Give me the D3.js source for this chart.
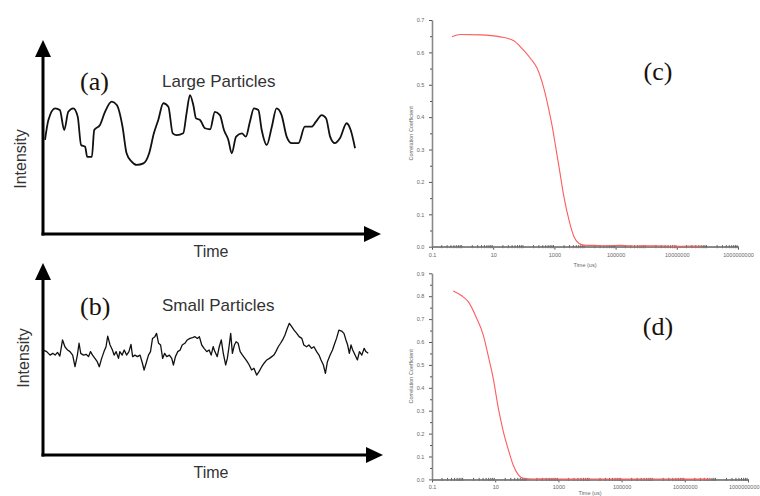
<!DOCTYPE html>
<html lang="en">
<head>
<meta charset="utf-8">
<script src="https://cdn.jsdelivr.net/npm/d3@7"></script>
<style>
  body { margin: 0; background: #fff; }
  svg { display: block; }
</style>
</head>
<body>
<script>
// (a) large particles, intensity vs time (arbitrary units)
const largeT = [0.6, 1.6, 3.6, 5.0, 6.3, 7.5, 9.0, 10.3, 11.3, 12.5, 13.1, 14.5, 15.2, 16.9, 18.4, 20.4, 21.9, 23.6, 24.8, 26.3,
  27.8, 29.8, 31.5, 32.9, 34.2, 35.7, 37.2, 38.5, 39.7, 41.6, 42.6, 43.6, 44.6, 45.4, 46.6, 48.1, 49.6, 51.0, 52.5, 53.7,
  55.0, 56.0, 57.3, 59.0, 60.2, 61.4, 62.6, 63.9, 64.9, 66.4, 67.9, 69.3, 70.8, 72.3, 73.8, 75.8, 77.7, 79.7, 81.0, 82.7,
  84.0, 85.2, 86.6, 88.1, 90.1, 91.3, 92.6];
const largeI = [48.5, 58.8, 64.8, 63.9, 53.6, 63.0, 64.8, 60.5, 45.9, 45.0, 39.8, 39.8, 53.6, 56.2, 63.0, 68.2, 66.5, 55.3, 41.6, 37.3,
  35.6, 36.4, 41.6, 51.9, 58.8, 67.4, 65.6, 51.9, 51.0, 51.9, 62.2, 71.6, 66.5, 59.6, 58.8, 54.5, 54.0, 63.0, 61.3, 53.6,
  48.5, 41.6, 50.2, 51.9, 50.2, 57.9, 64.8, 63.9, 53.6, 45.9, 55.3, 64.8, 61.3, 50.2, 46.8, 46.8, 55.3, 55.3, 57.9, 61.3,
  59.6, 50.2, 46.8, 49.3, 57.1, 53.6, 44.2];

// (b) small particles
const smallT = [0.1, 1.1, 2.1, 2.9, 3.6, 4.3, 5.0, 5.8, 6.5, 7.3, 8.0, 8.8, 9.5, 10.2, 10.7, 11.2, 12.0, 12.8, 13.5, 14.1,
  14.7, 15.4, 16.1, 16.7, 17.4, 18.1, 18.7, 19.2, 19.9, 20.6, 21.1, 21.7, 22.4, 22.8, 23.5, 24.1, 24.8, 25.5, 26.1, 26.6,
  27.3, 28.0, 28.8, 29.5, 30.0, 30.6, 31.3, 31.9, 32.5, 33.2, 33.7, 34.3, 34.9, 35.5, 36.1, 36.7, 37.5, 38.2, 38.7, 39.3,
  40.0, 40.7, 41.3, 42.1, 42.8, 43.6, 44.4, 45.1, 45.8, 46.4, 47.1, 47.8, 48.6, 49.3, 49.9, 50.5, 51.0, 51.7, 52.3, 52.9,
  53.5, 54.2, 54.7, 55.2, 55.7, 56.2, 56.8, 57.3, 57.9, 58.5, 59.2, 59.9, 60.6, 61.2, 61.9, 62.6, 63.4, 64.1, 64.9, 65.6,
  66.4, 67.2, 67.9, 68.5, 69.1, 69.8, 70.5, 71.1, 71.8, 72.5, 73.1, 73.8, 74.5, 75.3, 76.0, 76.8, 77.4, 78.2, 78.9, 79.7,
  80.4, 81.2, 81.9, 82.5, 83.2, 83.8, 84.4, 85.2, 85.9, 86.4, 87.1, 87.8, 88.6, 89.3, 89.9, 90.4, 90.9, 91.4, 91.9, 92.6,
  93.3, 93.9, 94.6, 95.3, 95.8, 96.5];
const smallI = [54.1, 53.3, 51.5, 52.4, 51.5, 52.9, 51.0, 59.3, 55.8, 54.1, 53.3, 51.5, 45.5, 51.5, 57.6, 52.4, 51.5, 51.9, 50.7, 53.3,
  51.5, 49.8, 48.1, 45.5, 49.8, 53.3, 55.8, 61.3, 56.7, 54.1, 51.5, 53.3, 49.8, 53.3, 51.5, 54.1, 51.5, 53.3, 57.0, 50.7,
  51.5, 50.7, 51.5, 47.3, 43.8, 47.3, 51.5, 53.3, 60.1, 61.0, 62.7, 57.6, 56.7, 49.8, 52.4, 50.7, 51.5, 49.8, 46.4, 50.7,
  53.3, 54.1, 56.7, 57.6, 59.3, 60.1, 60.5, 61.0, 60.1, 61.0, 56.7, 55.0, 53.3, 54.1, 51.5, 55.8, 53.3, 50.7, 55.8, 59.3,
  52.4, 46.4, 49.8, 55.8, 62.7, 52.4, 56.7, 58.4, 57.6, 53.3, 51.5, 49.8, 48.1, 46.4, 43.8, 44.7, 41.2, 43.0, 45.5, 47.3,
  49.0, 49.8, 50.7, 51.5, 53.3, 55.8, 57.6, 59.3, 61.9, 65.3, 67.9, 66.2, 64.4, 62.7, 61.0, 60.1, 56.7, 55.8, 56.7, 55.0,
  55.8, 53.3, 51.5, 49.0, 46.4, 42.1, 48.1, 51.5, 54.1, 56.7, 60.1, 64.4, 63.9, 62.7, 59.3, 56.7, 52.4, 56.7, 54.1, 51.5,
  49.0, 53.3, 51.5, 55.0, 53.3, 52.4];

// (c) correlation coefficient vs time (us), large particles
const cTime = [0.45, 0.85, 3.8, 17, 47, 100, 166, 275, 455, 665, 855, 1100, 1410, 2050, 3000, 4370, 6400, 9300,
  2e4, 5e4, 1.5e5, 5e5, 2e6, 8e6, 3e7, 6.3e7];
const cCorr = [0.648, 0.655, 0.654, 0.648, 0.636, 0.606, 0.581, 0.550, 0.488, 0.421, 0.370, 0.308, 0.247, 0.154, 0.082, 0.031, 0.010, 0.005,
  0.004, 0.003, 0.004, 0.002, 0.003, 0.001, 0.002, 0.001];

// (d) correlation coefficient vs time (us), small particles
const dTime = [0.47, 0.87, 1.4, 2.6, 4.2, 6.0, 8.7, 12.6, 18, 26, 37, 54, 78, 160, 500, 2000, 1e4, 1e5, 1e6, 1e7, 6.3e7];
const dCorr = [0.823, 0.802, 0.776, 0.703, 0.630, 0.540, 0.440, 0.310, 0.210, 0.130, 0.063, 0.020, 0.005, 0.002, 0.003, 0.001,
  0.002, 0.001, 0.002, 0.001, 0.001];

const xTickVals = [0.1, 10, 1000, 100000, 10000000, 1000000000];
const cYTicks = [0, 0.1, 0.2, 0.3, 0.4, 0.5, 0.6, 0.7];
const dYTicks = [0, 0.1, 0.2, 0.3, 0.4, 0.5, 0.6, 0.7, 0.8, 0.9];

const w = 760, h = 496;
const svg = d3.select("body").append("svg")
  .attr("width", w)
  .attr("height", h);

// left hand sketches with arrow axes
function sketch(cfg) {
  const x = d3.scaleLinear().domain([0, 100]).range([43, 380]);
  const y = d3.scaleLinear().domain([0, 100]).range([cfg.base, cfg.base - 194]);
  const g = svg.append("g");
  const x0 = x(0), yb = y(0), yTop = cfg.top, xEnd = cfg.xEnd;

  g.append("line").attr("x1", x0).attr("y1", yb + 1.5).attr("x2", x0).attr("y2", yTop + 12)
    .attr("stroke", "#000").attr("stroke-width", 3);
  g.append("line").attr("x1", x0 - 1.5).attr("y1", yb).attr("x2", xEnd - 12).attr("y2", yb)
    .attr("stroke", "#000").attr("stroke-width", 3);
  g.append("path")
    .attr("d", `M${x0 - 8},${yTop + 17}L${x0},${yTop}L${x0 + 8},${yTop + 17}Z`)
    .attr("fill", "#000");
  g.append("path")
    .attr("d", `M${xEnd - 17},${yb - 8}L${xEnd},${yb}L${xEnd - 17},${yb + 8}Z`)
    .attr("fill", "#000");

  g.append("path")
    .datum(cfg.t.map((t, i) => [t, cfg.v[i]]))
    .attr("fill", "none")
    .attr("stroke", "#111")
    .attr("stroke-width", cfg.sw)
    .attr("stroke-linejoin", "round")
    .attr("d", d3.line().x(d => x(d[0])).y(d => y(d[1])).curve(cfg.curve));

  g.append("text")
    .attr("transform", `translate(${cfg.ix},${cfg.iy}) rotate(-90)`)
    .attr("text-anchor", "middle")
    .attr("font-family", "Liberation Sans, Arial, sans-serif")
    .attr("font-size", 16)
    .attr("fill", "#333")
    .text("Intensity");
  g.append("text")
    .attr("x", 211).attr("y", cfg.timeY)
    .attr("text-anchor", "middle")
    .attr("font-family", "Liberation Sans, Arial, sans-serif")
    .attr("font-size", 16)
    .attr("fill", "#333")
    .text("Time");
  g.append("text")
    .attr("x", 80).attr("y", cfg.labY)
    .attr("font-family", "Liberation Serif, Times New Roman, serif")
    .attr("font-size", 26)
    .attr("fill", "#1a1208")
    .text(cfg.label);
  g.append("text")
    .attr("x", 162).attr("y", cfg.titleY)
    .attr("font-family", "Liberation Sans, Arial, sans-serif")
    .attr("font-size", 17)
    .attr("fill", "#333")
    .text(cfg.title);
}

sketch({ base: 234, top: 40, xEnd: 381, t: largeT, v: largeI, sw: 1.8, curve: d3.curveMonotoneX,
  ix: 26, iy: 159, timeY: 257, label: "(a)", labY: 90, title: "Large Particles", titleY: 87 });
sketch({ base: 455, top: 263, xEnd: 383, t: smallT, v: smallI, sw: 1.3, curve: d3.curveLinear,
  ix: 29, iy: 358, timeY: 478, label: "(b)", labY: 315, title: "Small Particles", titleY: 311 });

// right hand correlation plots
function corrPlot(cfg) {
  const x = d3.scaleLog().domain([0.1, 1e9]).range([432, cfg.xEnd]);
  const y = d3.scaleLinear().domain([0, cfg.yMax]).range([cfg.y0, cfg.y1]);
  const g = svg.append("g");
  const minor = [];
  for (let e = -1; e < 9; e++) for (let k = 2; k < 10; k++) minor.push(k * Math.pow(10, e));
  const yMinor = d3.range(0.05, cfg.yMax, 0.1);

  // y axis
  const ya = g.append("g").attr("transform", `translate(${x(0.1)},0)`)
    .call(d3.axisLeft(y).tickValues(cfg.yTicks).tickFormat(d3.format(".1f")).tickSize(3).tickSizeOuter(0));
  g.append("g").attr("transform", `translate(${x(0.1)},0)`)
    .call(d3.axisLeft(y).tickValues(yMinor).tickFormat("").tickSize(2).tickSizeOuter(0));
  // x axis
  const xa = g.append("g").attr("transform", `translate(0,${y(0)})`)
    .call(d3.axisBottom(x).tickValues(xTickVals).tickFormat(d => String(d)).tickSize(3).tickSizeOuter(0));
  g.append("g").attr("transform", `translate(0,${y(0)})`)
    .call(d3.axisBottom(x).tickValues(minor).tickFormat("").tickSize(1.5).tickSizeOuter(0));
  g.append("g").attr("transform", `translate(0,${y(0)})`)
    .call(d3.axisTop(x).tickValues(minor).tickFormat("").tickSize(1.5).tickSizeOuter(0));

  g.selectAll(".domain").attr("stroke", "#888").attr("stroke-width", 1.3);
  xa.select(".domain").attr("stroke", "#333");
  g.selectAll(".tick line").attr("stroke", "#555");
  g.selectAll(".tick text")
    .attr("font-family", "Liberation Sans, Arial, sans-serif")
    .attr("font-size", 5.5)
    .attr("fill", "#666");
  ya.selectAll(".tick text").attr("dx", "-0.3em");
  if (cfg.xEnd > 740) {
    // keep the last label inside the picture
    xa.selectAll(".tick text").filter(d => d === 1e9)
      .attr("text-anchor", "end")
      .attr("x", w - 1 - cfg.xEnd);
  }

  g.append("path")
    .datum(cfg.t.map((t, i) => [t, cfg.v[i]]))
    .attr("fill", "none")
    .attr("stroke", "#ff5c5c")
    .attr("stroke-width", 1.1)
    .attr("d", d3.line().x(d => x(d[0])).y(d => y(d[1])).curve(d3.curveMonotoneX));

  g.append("text")
    .attr("transform", `translate(413,${(cfg.y0 + cfg.y1) / 2}) rotate(-90)`)
    .attr("text-anchor", "middle")
    .attr("font-family", "Liberation Sans, Arial, sans-serif")
    .attr("font-size", 5.5)
    .attr("fill", "#666")
    .text("Correlation Coefficient");
  g.append("text")
    .attr("x", (432 + cfg.xEnd) / 2).attr("y", cfg.timeY)
    .attr("text-anchor", "middle")
    .attr("font-family", "Liberation Sans, Arial, sans-serif")
    .attr("font-size", 5.5)
    .attr("fill", "#666")
    .text("Time (us)");
  g.append("text")
    .attr("x", 658).attr("y", cfg.labY)
    .attr("text-anchor", "middle")
    .attr("font-family", "Liberation Serif, Times New Roman, serif")
    .attr("font-size", 26)
    .attr("fill", "#1a1208")
    .text(cfg.label);
}

corrPlot({ xEnd: 738, yMax: 0.7, y0: 246.7, y1: 20, yTicks: cYTicks, t: cTime, v: cCorr,
  timeY: 267, label: "(c)", labY: 80 });
corrPlot({ xEnd: 748, yMax: 0.9, y0: 479.4, y1: 273.3, yTicks: dYTicks, t: dTime, v: dCorr,
  timeY: 495, label: "(d)", labY: 335 });
</script>
</body>
</html>
